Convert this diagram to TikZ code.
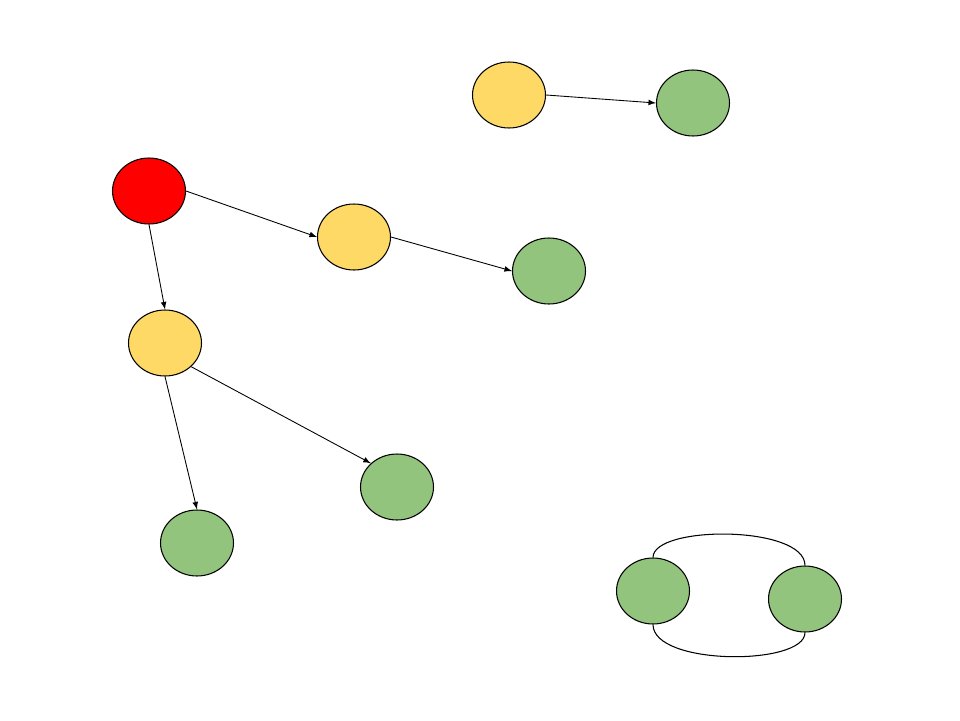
\documentclass[tikz,border=0pt]{standalone}
\usepackage{tikz}
\usetikzlibrary{shapes.geometric,arrows}

\definecolor{rootred}{HTML}{FF0000}
\definecolor{midyellow}{HTML}{FFD966}
\definecolor{leafgreen}{HTML}{93C47D}

\tikzset{
  vert/.style={ellipse,draw,line width=0.6pt,inner sep=0pt,
    minimum width=1.46cm,minimum height=1.32cm},
  edge/.style={-latex,line width=0.5pt}
}

\begin{document}
\begin{tikzpicture}[x=0.02cm,y=-0.02cm]
    \useasboundingbox (0,0) rectangle (960,720);
    \node[vert,fill=rootred] (R) at (149,191) {};
    \node[vert,fill=midyellow] (Y1) at (509,95) {};
    \node[vert,fill=midyellow] (Y2) at (354,237) {};
    \node[vert,fill=midyellow] (Y3) at (165,343) {};
    \node[vert,fill=leafgreen] (G1) at (693,103) {};
    \node[vert,fill=leafgreen] (G2) at (549,271) {};
    \node[vert,fill=leafgreen] (G3) at (397,487) {};
    \node[vert,fill=leafgreen] (G4) at (197,543) {};
    \node[vert,fill=leafgreen] (G5) at (653,591) {};
    \node[vert,fill=leafgreen] (G6) at (805,599) {};
    \draw[edge] (Y1.east) -- (G1.west);
    \draw[edge] (R.east) -- (Y2.west);
    \draw[edge] (R.south) -- (Y3.north);
    \draw[edge] (Y2.east) -- (G2.west);
    \draw[edge] (Y3.south east) -- (G3.north west);
    \draw[edge] (Y3.south) -- (G4.north);
    % two plain arcs between the lower pair
    \draw[line width=0.6pt]
      (G5.north) .. controls (653,525) and (805,525) .. (G6.north);
    \draw[line width=0.6pt]
      (G5.south) .. controls (653,666) and (805,666) .. (G6.south);
  \end{tikzpicture}
\end{document}
